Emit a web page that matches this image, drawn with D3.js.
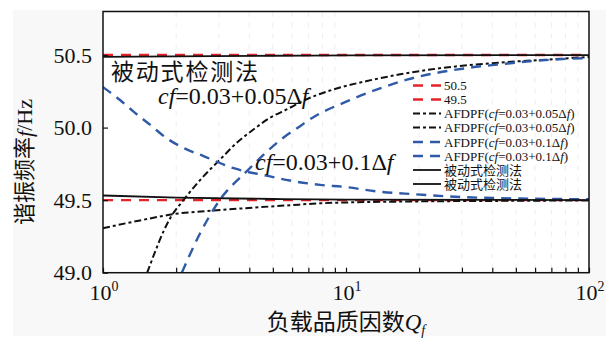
<!DOCTYPE html>
<html>
<head>
<meta charset="utf-8">
<script src="https://cdn.jsdelivr.net/npm/d3@7"></script>
<style>
  html, body { margin: 0; padding: 0; background: #fff; }
  svg { display: block; }
  text { font-family: "Liberation Serif", "Times New Roman", "Noto Sans CJK SC", serif; fill: #111; }
</style>
</head>
<body>
<svg id="chart" width="614" height="338"></svg>
<script>
// Resonant frequency boundaries versus load quality factor Qf
const threshold = [50.5, 49.5];

// AFDPF, cf = 0.03 + 0.05Δf (rising branch and lower branch)
const qA1 = [1.52, 1.89, 2.15, 2.59, 3.03, 3.55, 4.16, 4.87, 5.70, 6.78, 8.87, 12.2, 16.7, 22.2, 43.0, 71.1, 100];
const fA1 = [49.0, 49.376, 49.503, 49.664, 49.779, 49.895, 49.987, 50.068, 50.125, 50.19, 50.263, 50.321, 50.367, 50.40, 50.448, 50.471, 50.487];
const qA2 = [1, 1.42, 1.98, 2.94, 5.88, 7.82, 16.7, 43.0, 100];
const fA2 = [49.307, 49.36, 49.405, 49.43, 49.465, 49.478, 49.49, 49.495, 49.498];

// AFDPF, cf = 0.03 + 0.1Δf (rising branch and falling branch)
const qB1 = [2.11, 2.51, 3.03, 3.90, 5.52, 6.47, 7.31, 10.07, 13.8, 17.8, 31.4, 43.0, 58.8, 100];
const fB1 = [49.0, 49.272, 49.503, 49.698, 49.93, 50.01, 50.07, 50.18, 50.27, 50.33, 50.41, 50.436, 50.459, 50.48];
const qB2 = [1, 1.175, 1.329, 1.561, 1.834, 2.175, 2.579, 3.45, 4.867, 5.88, 7.82, 10.0, 13.4, 17.5, 31.5, 58.8, 100];
const fB2 = [50.279, 50.19, 50.113, 50.02, 49.925, 49.855, 49.805, 49.72, 49.664, 49.635, 49.605, 49.59, 49.56, 49.545, 49.52, 49.51, 49.506];

// Passive detection boundaries
const qP = [1, 2, 5, 10, 100];
const fP1 = [50.487, 50.491, 50.495, 50.497, 50.5];
const fP2 = [49.532, 49.518, 49.508, 49.504, 49.5];

const yTicks = [49.0, 49.5, 50.0, 50.5];
const xMajor = [1, 10, 100];
const xExp = ["0", "1", "2"];

const legendLabels = ["50.5", "49.5",
  "AFDPF(cf=0.03+0.05Δf)", "AFDPF(cf=0.03+0.05Δf)",
  "AFDPF(cf=0.03+0.1Δf)", "AFDPF(cf=0.03+0.1Δf)",
  "被动式检测法", "被动式检测法"];

const RED = "#e3232a", BLUE = "#2f5aa8", BLACK = "#111";

const svg = d3.select("#chart");
const L = 103, R = 589, T = 11.5, B = 272.7;

const x = d3.scaleLog().domain([1, 100]).range([L, R]);
const y = d3.scaleLinear().domain([49, 50.8]).range([B, T]);

// page backdrop and plot area
svg.append("rect").attr("x", 13).attr("y", 10).attr("width", 593).attr("height", 326).attr("fill", "#f8f8f8");
svg.append("rect").attr("x", L).attr("y", T).attr("width", R - L).attr("height", B - T).attr("fill", "#fff");

// faint vertical grid at minor decades
const minor = [];
[1, 10].forEach(d => { for (let k = 2; k <= 9; k++) minor.push(d * k); });
svg.append("g").selectAll("line").data(minor).join("line")
  .attr("x1", d => x(d)).attr("x2", d => x(d))
  .attr("y1", T).attr("y2", B)
  .attr("stroke", "#ededed").attr("stroke-width", 1).attr("stroke-dasharray", "5,6");

svg.append("clipPath").attr("id", "clip")
  .append("rect").attr("x", L).attr("y", T).attr("width", R - L).attr("height", B - T);

const line = d3.line().x(d => x(d[0])).y(d => y(d[1])).curve(d3.curveMonotoneX);
const zip = (q, f) => q.map((v, i) => [v, f[i]]);

const series = [
  { pts: [[1, threshold[0]], [100, threshold[0]]], color: RED, w: 2.4, dash: "10,8" },
  { pts: [[1, threshold[1]], [100, threshold[1]]], color: RED, w: 2.4, dash: "10,8" },
  { pts: zip(qA1, fA1), color: BLACK, w: 2, dash: "7,3,3,3" },
  { pts: zip(qA2, fA2), color: BLACK, w: 2, dash: "7,3,3,3" },
  { pts: zip(qB1, fB1), color: BLUE, w: 2.4, dash: "10,7" },
  { pts: zip(qB2, fB2), color: BLUE, w: 2.4, dash: "10,7" },
  { pts: zip(qP, fP1), color: BLACK, w: 1.8, dash: null },
  { pts: zip(qP, fP2), color: BLACK, w: 1.8, dash: null }
];

const plot = svg.append("g").attr("clip-path", "url(#clip)");
series.forEach(s => {
  plot.append("path").attr("d", line(s.pts))
    .attr("fill", "none").attr("stroke", s.color)
    .attr("stroke-width", s.w).attr("stroke-dasharray", s.dash);
});

// axes
const xTickVals = [1, ...minor.slice(0, 8), 10, ...minor.slice(8), 100];
const xAxis = svg.append("g").attr("transform", `translate(0,${B})`)
  .call(d3.axisBottom(x).tickValues(xTickVals).tickSizeInner(-5).tickSizeOuter(0).tickFormat(() => ""));
xAxis.select(".domain").remove();
xAxis.selectAll(".tick line").attr("stroke", "#111").attr("stroke-width", 1.2);
xMajor.forEach((v, i) => {
  const t = svg.append("text").attr("x", x(v) + 1).attr("y", 300)
    .attr("text-anchor", "middle").attr("font-size", 22);
  t.append("tspan").text("10");
  t.append("tspan").attr("dy", -9).attr("font-size", 14).text(xExp[i]);
});

const yAxis = svg.append("g").attr("transform", `translate(${L},0)`)
  .call(d3.axisLeft(y).tickValues(yTicks).tickSizeInner(-5).tickSizeOuter(0).tickPadding(11).tickFormat(d3.format(".1f")));
yAxis.select(".domain").remove();
yAxis.selectAll(".tick line").attr("stroke", "#111").attr("stroke-width", 1.2);
yAxis.selectAll(".tick text").attr("font-size", 22).attr("fill", "#111")
  .style("font-family", '"Liberation Serif", serif');

// frame
svg.append("rect").attr("x", L).attr("y", T).attr("width", R - L).attr("height", B - T)
  .attr("fill", "none").attr("stroke", "#111").attr("stroke-width", 1.5);

// axis titles
const yl = svg.append("text").attr("transform", "translate(32,162) rotate(-90)")
  .attr("text-anchor", "middle").attr("font-size", 22);
yl.append("tspan").text("谐振频率");
yl.append("tspan").attr("font-style", "italic").text("f");
yl.append("tspan").text("/Hz");

const xl = svg.append("text").attr("x", 346).attr("y", 330)
  .attr("text-anchor", "middle").attr("font-size", 23);
xl.append("tspan").text("负载品质因数");
xl.append("tspan").attr("font-style", "italic").text("Q");
xl.append("tspan").attr("font-style", "italic").attr("font-size", 14).attr("dy", 5).text("f");

// curve annotations
svg.append("text").attr("x", 111).attr("y", 80).attr("font-size", 23)
  .attr("letter-spacing", 1.8).text("被动式检测法");

function cfLabel(g, px, py, size, coef) {
  const t = g.append("text").attr("x", px).attr("y", py).attr("font-size", size);
  t.append("tspan").attr("font-style", "italic").text("cf");
  t.append("tspan").text("=0.03+" + coef + "Δ");
  t.append("tspan").attr("font-style", "italic").text("f");
  return t;
}
cfLabel(svg, 158, 104, 24, "0.05");
cfLabel(svg, 255, 170, 24, "0.1");

// legend
const legend = svg.append("g");
const rowY = [85.5, 99.5, 113.5, 127.5, 142, 156, 170, 184];
series.forEach((s, i) => {
  legend.append("line").attr("x1", 413).attr("x2", 441).attr("y1", rowY[i]).attr("y2", rowY[i])
    .attr("stroke", s.color).attr("stroke-width", s.w).attr("stroke-dasharray", s.dash);
  const t = legend.append("text").attr("x", 444).attr("y", rowY[i] + 4.5).attr("font-size", 13);
  const lab = legendLabels[i];
  const m = lab.match(/^AFDPF\(cf=(.*)Δf\)$/);
  if (m) {
    t.append("tspan").text("AFDPF(");
    t.append("tspan").attr("font-style", "italic").text("cf");
    t.append("tspan").text("=" + m[1] + "Δ");
    t.append("tspan").attr("font-style", "italic").text("f");
    t.append("tspan").text(")");
  } else {
    t.text(lab);
  }
});
</script>
</body>
</html>
